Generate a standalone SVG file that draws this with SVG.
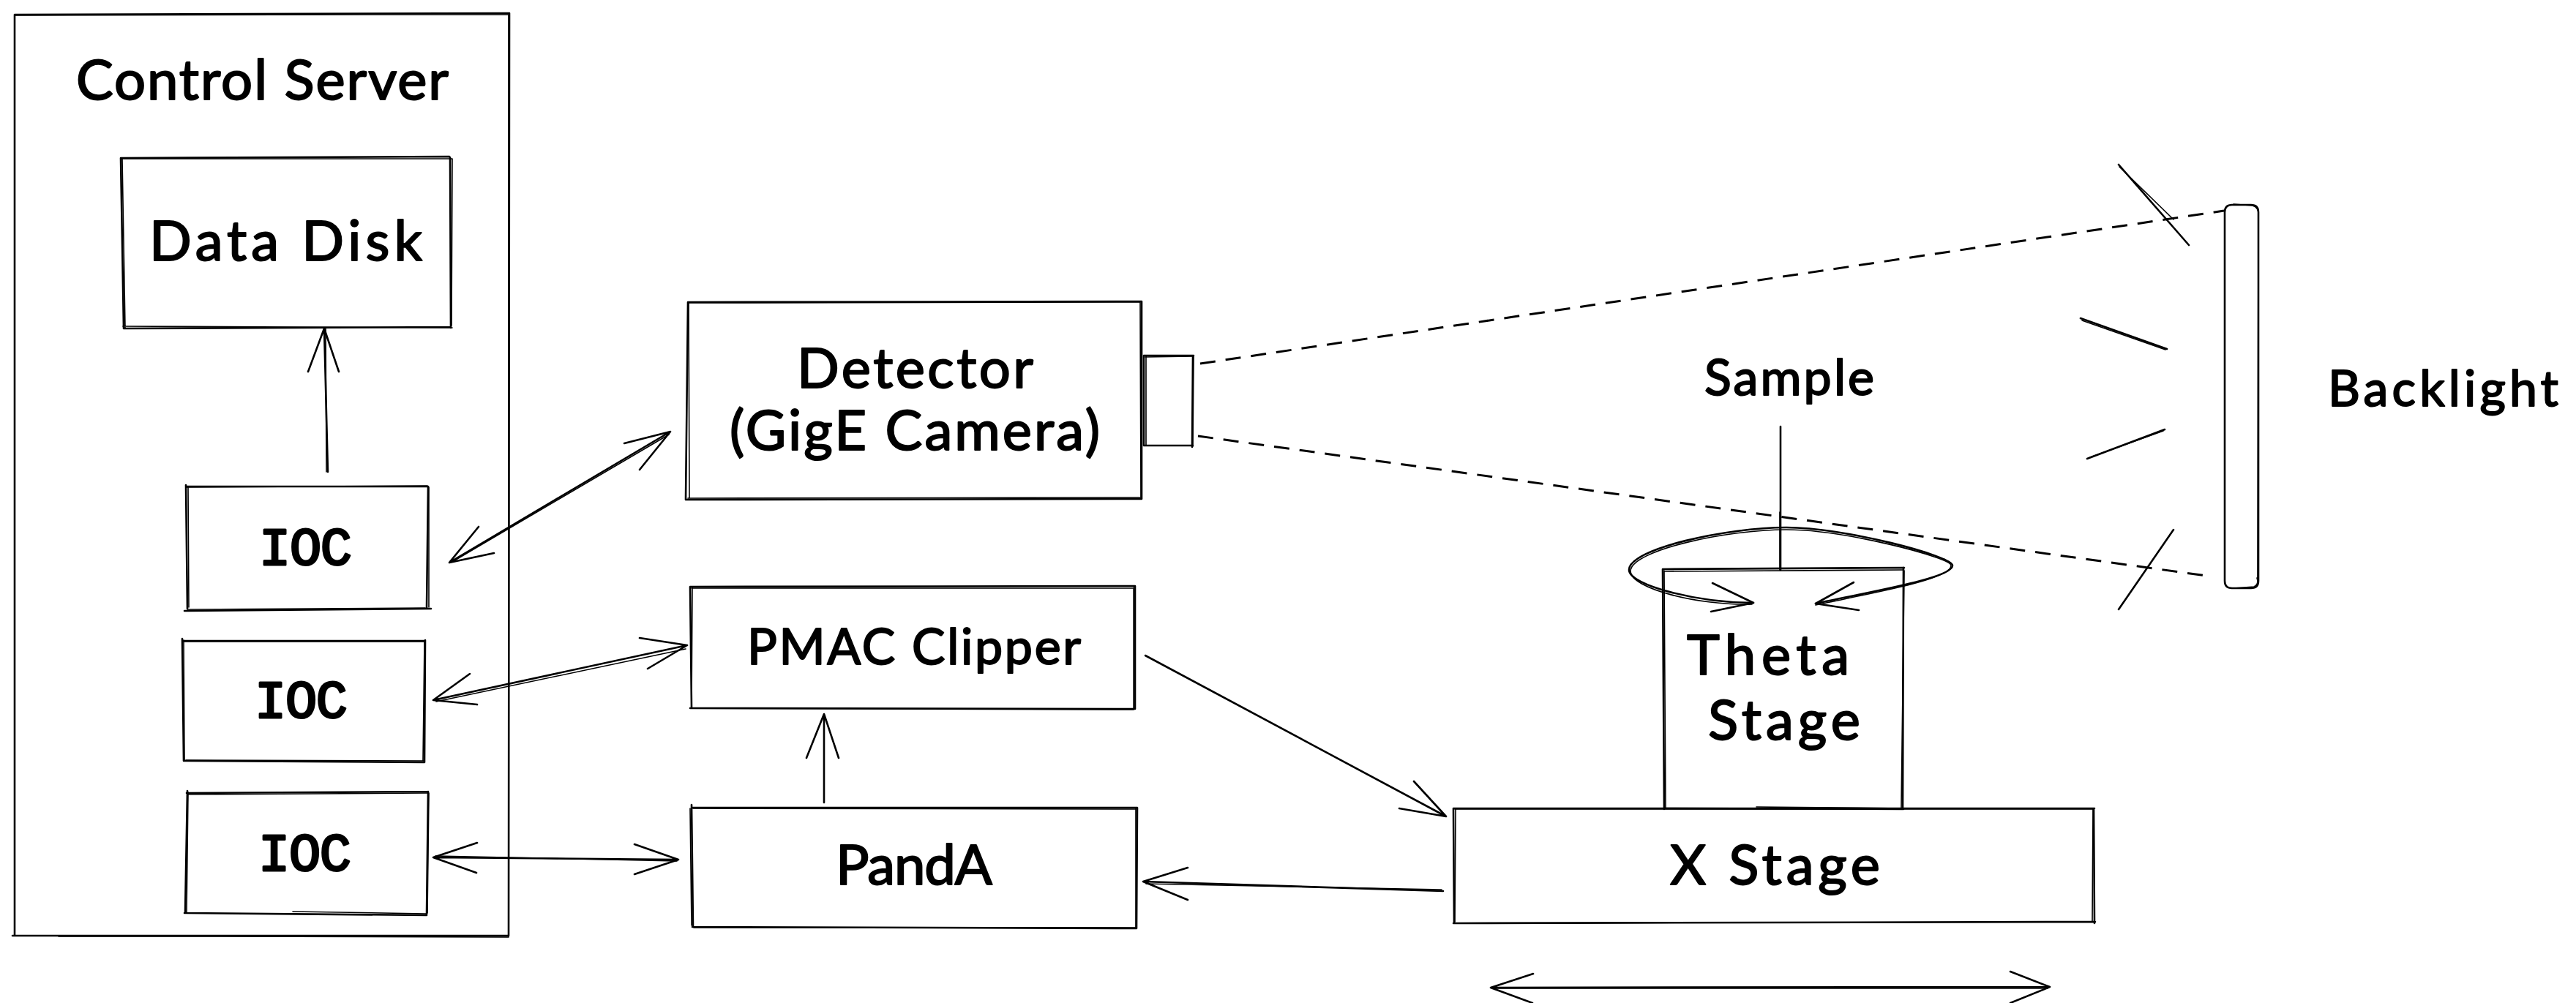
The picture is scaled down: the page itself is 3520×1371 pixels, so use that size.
<svg xmlns="http://www.w3.org/2000/svg" width="3520" height="1371" viewBox="0 0 3520 1371">
<style>
.l{fill:none;stroke:#000;stroke-width:2.6;stroke-linecap:round;stroke-linejoin:round}
.t{fill:none;stroke:#000;stroke-width:1.6;stroke-linecap:round;stroke-linejoin:round}
.d{fill:none;stroke:#000;stroke-width:3;stroke-dasharray:21 14}
text{font-family:"Lato","Liberation Sans",sans-serif;font-size:68px;fill:#000;stroke:#000;stroke-width:2;stroke-linejoin:round}
text.b{font-size:76px}
text.m{font-family:"Liberation Mono","DejaVu Sans Mono",monospace;font-size:72px;stroke-width:3}
</style>
<rect width="3520" height="1371" fill="#fff"/>
<g id="control-server">
<path class="l" d="M20 20L696 18M696 18L695 1279M695 1279L17 1279M20 20L20 1279"/>
<path class="t" d="M21 21L500 20L696 20M695 20L695 1280M695 1281L300 1280L80 1280"/>
<text class="b" x="104" y="136" textLength="509">Control Server</text>
</g>
<g id="data-disk">
<path class="l" d="M165 216L614 214M615 215L616 448M616 447L169 449M165 216L169 449"/>
<path class="t" d="M166 217L618 217M618 217L617 445M618 448L168 446M167 217L171 448"/>
<text class="b" x="204" y="356" textLength="373">Data Disk</text>
</g>
<g id="ioc-1">
<path class="l" d="M254 665L585 665M585 665L583 832M589 832L252 835M254 663L256 832"/>
<path class="t" d="M255 666L584 664M586 666L586 830M581 831L256 833M257 665L258 830"/>
<text class="m" x="354" y="772" textLength="127">IOC</text>
</g>
<g id="ioc-2">
<path class="l" d="M249 876L581 876M581 875L580 1042M580 1042L251 1040M249 873L251 1040"/>
<path class="t" d="M250 877L580 877M580 877L578 1040M579 1040L254 1039M251 875L252 1040"/>
<text class="m" x="348" y="981" textLength="127">IOC</text>
</g>
<g id="ioc-3">
<path class="l" d="M255 1084L585 1082M585 1082L583 1250M583 1251L252 1248M256 1081L253 1248"/>
<path class="t" d="M257 1086L585 1084M586 1084L584 1248M583 1249L400 1246M257 1083L255 1247"/>
<text class="m" x="353" y="1190" textLength="127">IOC</text>
</g>
<g id="detector">
<path class="l" d="M940 413L1560 412M1560 412L1560 682M1560 682L937 683M940 413L937 683"/>
<path class="t" d="M941 414L1558 413M1558 413L1559 680M1558 680L940 681M941 414L942 680"/>
<text class="b" x="1089" y="530" textLength="323">Detector</text>
<text class="b" x="997" y="615" textLength="506">(GigE Camera)</text>
</g>
<g id="detector-lens">
<path class="l" d="M1563 486L1631 486M1630 486L1629 611M1630 609L1563 609M1563 486L1563 609"/>
<path class="t" d="M1565 488L1630 487M1631 487L1630 610M1566 486L1566 609"/>
</g>
<g id="pmac-clipper">
<path class="l" d="M943 802L1551 801M1551 801L1551 969M1551 969L943 968M943 802L945 968"/>
<path class="t" d="M945 804L1549 804M1549 803L1549 968M1549 970L945 968M946 802L945 966"/>
<text x="1021" y="908" textLength="456">PMAC Clipper</text>
</g>
<g id="panda">
<path class="l" d="M945 1104L1554 1104M1554 1104L1553 1269M1553 1269L946 1267M945 1100L947 1267"/>
<path class="t" d="M947 1105L1552 1106M1552 1104L1552 1267M1552 1268L948 1268M943 1105L945 1265"/>
<text class="b" x="1142" y="1209" textLength="214">PandA</text>
</g>
<g id="x-stage">
<path class="l" d="M1986 1105L2862 1105M2861 1105L2862 1262M2863 1260L1986 1262M1986 1105L1987 1262"/>
<path class="t" d="M1988 1106L2860 1106M2860 1106L2859 1260M2400 1261L1988 1262M1989 1106L1988 1260"/>
<text class="b" x="2282" y="1209" textLength="287">X Stage</text>
</g>
<g id="theta-stage">
<path class="l" d="M2272 778L2602 776M2601 776L2600 1106M2601 1106L2274 1105M2272 778L2274 1106"/>
<path class="t" d="M2274 781L2600 779M2602 780L2598 1104M2602 1105L2400 1103M2274 780L2276 1104"/>
<text class="b" x="2305" y="922" textLength="222">Theta</text>
<text class="b" x="2334" y="1011" textLength="208">Stage</text>
</g>
<g id="backlight">
<path class="l" d="M3050 280L3076 280Q3086 280 3086 290L3086 794Q3086 804 3076 804L3050 804Q3040 804 3040 794L3040 290Q3040 280 3050 280Z"/>
<path class="t" d="M3052 279L3078 281Q3087 284 3086 293L3085 790M3052 804L3080 802Q3087 798 3084 790"/>
<text x="3181" y="555" textLength="315">Backlight</text>
</g>
<g id="sample">
<path class="l" d="M2433 583L2433 779"/>
<path class="t" d="M2432 700L2432 779"/>
<text x="2329" y="540" textLength="232">Sample</text>
</g>
<g id="connectors">
<path class="l" d="M448 645L443 449M421 508L443 449L463 508"/>
<path class="t" d="M446 645L445 449"/>
<path class="l" d="M916 590L614 769M853 606L916 590L874 642M654 720L614 769L675 756"/>
<path class="t" d="M914 594L618 768"/>
<path class="l" d="M939 882L592 957M874 872L939 882L885 914M642 921L592 957L652 963"/>
<path class="t" d="M937 887L596 959"/>
<path class="l" d="M592 1172L927 1175M652 1152L592 1172L651 1193M867 1154L927 1175L867 1195"/>
<path class="t" d="M595 1170L925 1177"/>
<path class="l" d="M1126 1097L1126 976M1102 1036L1126 976L1146 1036"/>
<path class="l" d="M1565 896L1976 1116M1932 1068L1976 1116L1912 1105"/>
<path class="l" d="M1972 1218L1562 1205M1623 1186L1562 1205L1623 1230"/>
<path class="t" d="M1970 1216L1566 1208"/>
<path class="d" d="M1640 497L3039 288"/>
<path class="d" d="M1637 596L3022 788"/>
<path class="l" d="M2895 225L2991 335M2843 435L2961 477M2852 627L2958 587M2970 724L2895 833"/>
<path class="t" d="M2896 228L2970 300M2845 438L2959 478M2856 625L2956 589"/>
<path class="l" d="M2481 825C2560 808 2668 790 2668 773C2668 760 2520 721 2441 721C2360 721 2226 750 2226 779C2226 800 2320 824 2396 824"/>
<path class="t" d="M2481 827C2560 810 2666 792 2666 773C2666 762 2520 724 2441 724C2360 724 2228 752 2228 781C2228 804 2320 828 2394 826"/>
<path class="l" d="M2340 797L2396 824L2338 836M2533 796L2481 825L2540 834"/>
<path class="l" d="M2037 1350L2801 1349M2095 1331L2037 1350L2094 1371M2747 1328L2801 1349L2747 1371"/>
<path class="t" d="M2040 1351L2798 1351"/>
</g>
</svg>
